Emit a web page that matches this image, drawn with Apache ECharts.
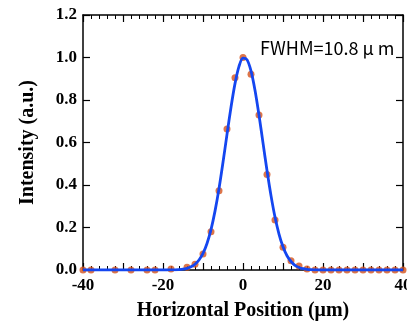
<!DOCTYPE html>
<html>
<head>
<meta charset="utf-8">
<script src="https://cdn.jsdelivr.net/npm/echarts@6/dist/echarts.min.js"></script>
<style>html,body{margin:0;padding:0;background:#fff}#c{width:407px;height:323px}</style>
</head>
<body>
<div id="c"></div>
<script>
// measured data points (position in um, intensity a.u.)
const pointX = [-40, -38, -32, -28, -24, -22, -18, -14, -12, -10, -8, -6, -4, -2, 0, 2, 4, 6, 8, 10, 12, 14, 16, 18, 20, 22, 24, 26, 28, 30, 32, 34, 36, 38, 40];
const pointY = [0, 0, 0, 0, 0, 0, 0.005, 0.013, 0.027, 0.075, 0.18, 0.373, 0.664, 0.905, 1.0, 0.921, 0.729, 0.45, 0.235, 0.107, 0.044, 0.019, 0.005, 0, 0, 0, 0, 0, 0, 0, 0, 0, 0, 0, 0];
// fitted curve
const fitX = [-40, -20, -19, -18, -17, -16, -15, -14, -13, -12, -11, -10, -9, -8, -7, -6, -5, -4, -3, -2, -1, 0, 1, 2, 3, 4, 5, 6, 7, 8, 9, 10, 11, 12, 13, 14, 15, 16, 17, 18, 19, 20, 40];
const fitY = [0, 0, 0, 0.0005, 0.001, 0.002, 0.004, 0.008, 0.015, 0.027, 0.047, 0.078, 0.125, 0.19, 0.277, 0.383, 0.507, 0.638, 0.766, 0.877, 0.958, 0.997, 0.99, 0.937, 0.846, 0.729, 0.598, 0.468, 0.35, 0.249, 0.169, 0.109, 0.067, 0.04, 0.022, 0.012, 0.006, 0.003, 0.0013, 0.0006, 0, 0, 0];
const xTicks = { min: -40, max: 40, step: 10 };
const yTicks = { min: 0, max: 1.2, step: 0.2 };
const annotation = 'FWHM=10.8 μ m';

const chart = echarts.init(document.getElementById('c'), null, { renderer: 'canvas' });
const axisFont = { fontFamily: 'Liberation Serif', fontWeight: 'bold', fontSize: 17, color: '#000' };
const nameFont = { fontFamily: 'Liberation Serif', fontWeight: 'bold', fontSize: 20, color: '#000' };
const lineStyle = { color: '#000', width: 1.5 };
function xAxisDef(pos, showLabel) {
  return {
    type: 'value', position: pos, min: xTicks.min, max: xTicks.max, interval: xTicks.step,
    axisLine: { show: true, onZero: false, lineStyle },
    axisTick: { show: true, inside: true, length: 7, lineStyle: { color: '#000', width: 1.2 } },
    minorTick: { show: true, splitNumber: 5, length: 4, lineStyle: { color: '#000', width: 1 } },
    splitLine: { show: false },
    axisLabel: { show: showLabel, interval: 1, margin: 7, hideOverlap: false, ...axisFont,
      formatter: v => (Math.round(v) % 20 === 0 ? String(Math.round(v)) : '') },
    name: showLabel ? 'Horizontal Position (μm)' : '',
    nameLocation: 'middle', nameGap: 31,
    nameTextStyle: nameFont
  };
}
function yAxisDef(pos, showLabel) {
  return {
    type: 'value', position: pos, min: yTicks.min, max: yTicks.max, interval: yTicks.step,
    axisLine: { show: true, onZero: false, lineStyle },
    axisTick: { show: true, inside: true, length: 7, lineStyle: { color: '#000', width: 1.2 } },
    splitLine: { show: false },
    axisLabel: { show: showLabel, margin: 6, ...axisFont, formatter: v => v.toFixed(1) },
    name: showLabel ? 'Intensity (a.u.)' : '',
    nameLocation: 'middle', nameGap: 45, nameRotate: 90,
    nameTextStyle: nameFont
  };
}
chart.setOption({
  animation: false,
  backgroundColor: '#fff',
  grid: { left: 83, right: 4, top: 15, bottom: 53, outerBoundsMode: 'none', containLabel: false },
  xAxis: [xAxisDef('bottom', true), xAxisDef('top', false)],
  yAxis: [yAxisDef('left', true), yAxisDef('right', false)],
  graphic: [{
    type: 'text', left: 260, top: 39, z: 100,
    style: { text: annotation, fontFamily: 'Noto Sans CJK JP', fontSize: 18, fill: '#000' }
  }],
  series: [
    {
      type: 'scatter', data: pointX.map((x, i) => [x, pointY[i]]),
      symbol: 'circle', symbolSize: 7, itemStyle: { color: '#d4521c' }, z: 2, clip: false
    },
    {
      type: 'line', data: fitX.map((x, i) => [x, fitY[i]]),
      smooth: 0.3, showSymbol: false,
      lineStyle: { color: '#1446f0', width: 2.8 }, z: 3
    }
  ]
});
</script>
</body>
</html>
